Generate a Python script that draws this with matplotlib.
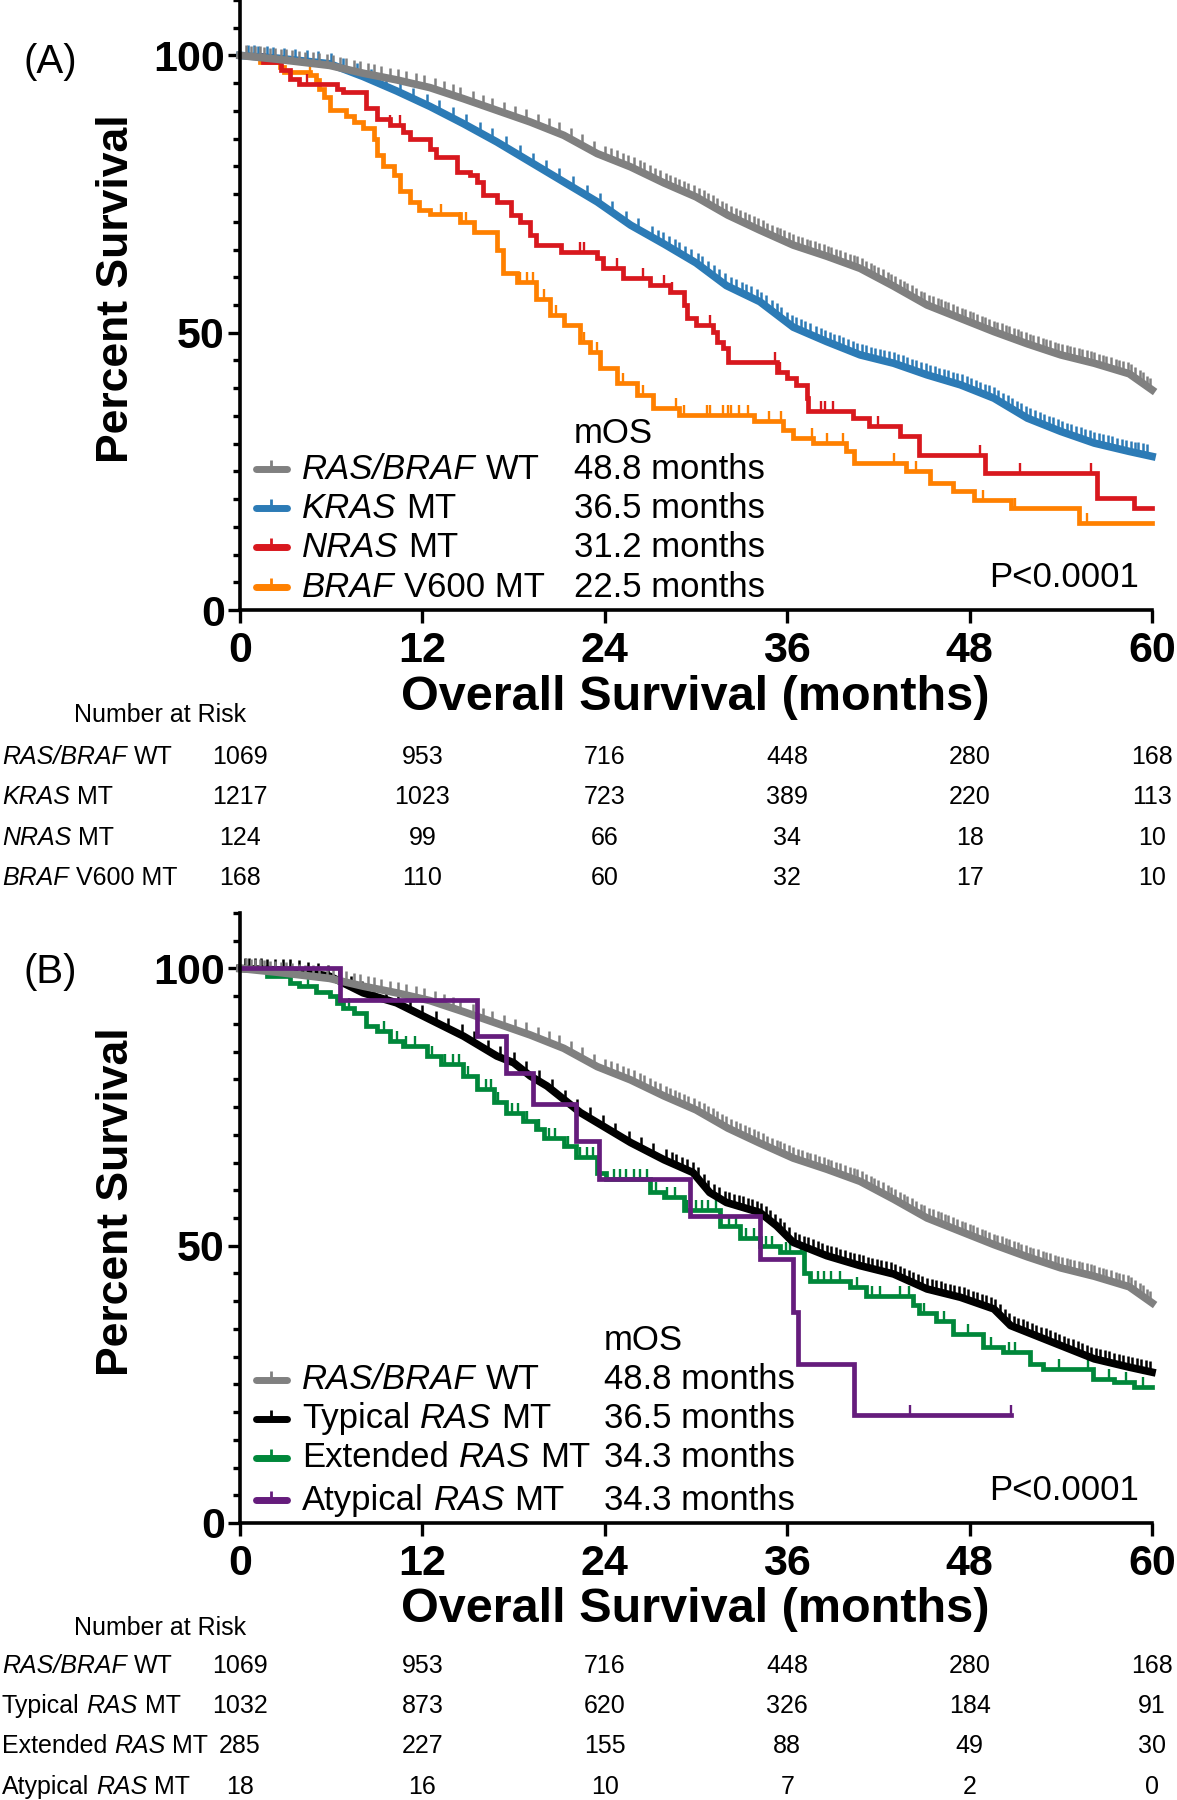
import numpy as np
import matplotlib
matplotlib.use("Agg")
import matplotlib.pyplot as plt
from matplotlib.path import Path
from matplotlib import transforms
from matplotlib.ticker import FixedLocator, MultipleLocator

plt.rcParams['font.family'] = ['Liberation Sans', 'DejaVu Sans']

# ---------------- data ----------------
xticks = [0, 12, 24, 36, 48, 60]

# RAS/BRAF WT (same curve in both panels)
wt_t = [0, 2.5, 5.9, 8.1, 10.3, 12.5, 14.7, 16.9, 19.1, 21.3, 23.5, 25.7, 27.9, 30.0,
        32.1, 34.2, 36.4, 38.6, 40.8, 43.0, 45.2, 47.4, 49.6, 51.8, 54.0, 56.2, 58.5, 60.0]
wt_s = [100, 99.3, 98.2, 96.8, 95.6, 94.2, 92.2, 90.1, 88.0, 85.6, 82.3, 79.9, 77.0, 74.5,
        71.2, 68.5, 65.8, 63.8, 61.6, 58.4, 55.0, 52.6, 50.2, 48.0, 46.0, 44.5, 42.6, 39.7]
wt_cens = [0.4, 0.7, 1.0, 1.3, 1.6, 2.0, 2.3, 2.7, 3.0, 3.4, 3.9, 4.3, 4.8, 5.2, 5.7, 6.1,
           6.6, 7.0, 7.5, 7.9, 8.4, 8.8, 9.3, 9.9, 10.4, 10.9, 11.6, 12.1, 12.8, 13.4, 14.0,
           14.5, 15.3, 16.0, 16.6, 17.4, 18.1, 18.8, 19.6, 20.3, 21.0, 21.8, 22.5, 23.3, 24.0,
           24.4, 24.8, 25.2, 25.5, 25.9, 26.3, 26.6, 27.0, 27.3, 27.6, 28.0, 28.3, 28.6, 28.9,
           29.2, 29.5, 29.9, 30.2, 30.5, 30.8, 31.1, 31.4, 31.7, 32.0, 32.3, 32.6, 32.9,
           33.2, 33.5, 33.8, 34.1, 34.4, 34.7, 35.0, 35.3, 35.5, 35.8, 36.1, 36.4, 36.7,
           37.0, 37.3, 37.5, 37.8, 38.1, 38.4, 38.7, 38.9, 39.2, 39.5, 39.8, 40.1, 40.4,
           40.6, 40.9, 41.2, 41.5, 41.7, 42.0, 42.3, 42.6, 42.8, 43.1, 43.4, 43.7, 43.9,
           44.2, 44.5, 44.8, 45.0, 45.3, 45.6, 45.9, 46.1, 46.4, 46.6, 46.9, 47.2, 47.5,
           47.7, 48.0, 48.2, 48.5, 48.8, 49.0, 49.3, 49.6, 49.8, 50.1, 50.4, 50.6, 50.9,
           51.2, 51.4, 51.7, 52.0, 52.2, 52.5, 52.8, 53.0, 53.3, 53.6, 53.8, 54.1, 54.4,
           54.6, 54.9, 55.2, 55.4, 55.7, 56.0, 56.2, 56.5, 56.8, 57.0, 57.3, 57.6, 57.8,
           58.1, 58.4, 58.6, 58.9, 59.2, 59.4, 59.7, 59.9]

# KRAS MT
kras_t = [0, 2.5, 5.9, 8.1, 10.3, 12.5, 14.7, 16.9, 19.1, 21.3, 23.5, 25.7, 27.9, 30.0,
          32.0, 34.2, 36.4, 38.6, 40.8, 43.0, 45.2, 47.4, 49.6, 51.8, 54.0, 56.2, 58.5, 60.0]
kras_s = [100, 99.5, 98.5, 96.2, 93.6, 90.8, 87.7, 84.4, 80.8, 77.2, 73.6, 69.4, 66.0, 62.6,
          58.5, 55.6, 51.0, 48.4, 46.0, 44.5, 42.4, 40.6, 38.2, 34.6, 32.2, 30.1, 28.6, 27.7]
kras_cens = [0.5, 0.9, 1.2, 1.8, 2.2, 2.9, 3.6, 4.4, 5.1, 6.0, 6.8, 7.7, 8.6, 9.6, 10.5,
             11.4, 12.3, 13.1, 14.0, 14.9, 15.8, 16.6, 17.5, 18.4, 19.3, 20.1, 21.0, 21.9,
             22.8, 23.7, 24.5, 25.4, 26.2, 27.1, 27.5, 27.8, 28.2, 28.6, 28.9, 29.3, 29.7,
             30.1, 30.4, 30.8, 31.2, 31.5, 31.9, 32.3, 32.6, 33.0, 33.3, 33.6, 34.0, 34.3,
             34.6, 35.0, 35.3, 35.6, 36.0, 36.3, 36.6, 36.9, 37.2, 37.5, 37.9, 38.2, 38.5,
             38.8, 39.1, 39.4, 39.7, 40.0, 40.3, 40.6, 40.9, 41.2, 41.5, 41.8, 42.1, 42.4,
             42.7, 43.0, 43.3, 43.6, 43.9, 44.2, 44.5, 44.8, 45.1, 45.4, 45.7, 46.0, 46.3,
             46.6, 46.9, 47.2, 47.5, 47.8, 48.1, 48.4, 48.7, 49.0, 49.3, 49.6, 49.9, 50.2,
             50.5, 50.8, 51.1, 51.4, 51.7, 52.0, 52.3, 52.6, 52.9, 53.2, 53.5, 53.8, 54.1,
             54.4, 54.7, 55.0, 55.3, 55.6, 55.9, 56.2, 56.5, 56.8, 57.1, 57.4, 57.7, 58.0,
             58.3, 58.6, 58.9, 59.1, 59.4, 59.7]

# NRAS MT
nras_t = [0, 1.5, 2.7, 3.3, 3.9, 6.4, 6.8, 8.3, 9.0, 9.9, 10.7, 11.2, 12.5, 12.9, 14.3, 15.1,
          15.6, 16.0, 16.9, 17.8, 18.4, 19.1, 19.5, 21.1, 23.5, 23.9, 25.2, 27.0, 28.3, 29.2,
          29.4, 30.0, 31.1, 31.4, 31.8, 32.1, 35.3, 36.0, 36.6, 37.3, 37.4, 40.3, 41.4, 43.4,
          44.7, 49.0, 56.4, 58.8]
nras_s = [100, 98.8, 97.3, 95.8, 94.9, 94.0, 93.4, 90.5, 88.6, 87.4, 86.2, 85.0, 83.2, 81.7,
          79.0, 78.4, 77.2, 74.8, 73.6, 71.2, 70.0, 67.6, 65.8, 64.6, 63.4, 61.6, 59.8, 58.6,
          57.4, 55.0, 52.6, 51.4, 50.2, 48.4, 47.2, 44.8, 43.0, 41.8, 40.6, 38.2, 35.8, 34.6,
          33.1, 31.3, 28.0, 24.7, 20.2, 18.4]
nras_cens = [4.4, 9.9, 10.5, 22.4, 22.6, 24.8, 26.5, 27.9, 28.4, 30.9, 35.2, 35.5, 38.2, 38.5,
             39.0, 42.0, 48.7, 51.3, 56.0]
nras_end = 60

# BRAF V600 MT
braf_t = [0, 1.3, 2.6, 2.9, 4.6, 5.0, 5.2, 5.5, 5.9, 7.0, 7.5, 8.1, 8.8, 9.0, 9.4, 10.1, 10.5,
          11.2, 11.8, 12.5, 14.5, 15.4, 16.9, 17.3, 18.2, 19.5, 20.4, 21.3, 22.4, 23.0, 23.7,
          24.8, 26.1, 27.2, 28.9, 33.8, 35.7, 36.4, 37.7, 39.9, 40.4, 43.8, 45.4, 46.9, 48.3,
          50.7, 55.2]
braf_s = [100, 98.8, 97.9, 97.0, 96.4, 95.5, 94.0, 92.5, 90.1, 89.0, 88.0, 87.0, 85.0, 82.0,
          80.0, 78.5, 75.5, 73.6, 72.1, 71.5, 70.0, 68.2, 65.0, 60.7, 59.2, 56.0, 53.2, 51.4,
          48.4, 46.6, 43.6, 41.0, 38.8, 36.5, 35.2, 34.0, 32.5, 31.0, 30.1, 28.6, 26.5, 25.0,
          22.9, 21.4, 19.9, 18.4, 15.7]
braf_cens = [4.6, 13.2, 14.5, 14.9, 15.4, 18.4, 18.9, 19.3, 20.0, 20.8, 22.6, 23.5, 25.2,
             26.5, 28.7, 29.2, 30.7, 30.9, 31.8, 32.1, 32.3, 32.8, 33.4, 34.8, 35.6, 37.6,
             38.6, 39.7, 43.0, 44.5, 48.9, 51.0, 55.7]
braf_end = 60

# Typical RAS MT
typ_t = [0, 3.7, 5.9, 8.1, 10.3, 12.5, 14.7, 16.9, 18.0, 19.1, 20.2, 21.3, 22.4, 23.5, 25.7,
         27.9, 29.8, 30.9, 32.0, 34.2, 35.3, 36.4, 38.6, 40.8, 43.0, 45.2, 47.4, 49.6, 50.7,
         51.8, 54.0, 56.2, 58.5, 60.0]
typ_s = [100, 99.6, 98.6, 95.6, 93.8, 90.8, 87.8, 84.2, 83.0, 80.6, 78.8, 76.4, 74.0, 72.2,
         68.6, 65.5, 63.2, 59.6, 57.8, 56.0, 53.6, 50.6, 48.2, 46.4, 44.9, 42.2, 40.7, 38.6,
         35.6, 34.4, 32.0, 29.6, 28.1, 27.2]
typ_cens = [0.3, 0.6, 1.0, 1.4, 1.8, 2.3, 2.8, 3.3, 3.9, 4.5, 5.1, 5.8, 6.5, 7.3, 8.0, 8.8,
            9.6, 10.4, 11.2, 12.0, 12.9, 13.7, 14.6, 15.4, 16.3, 17.1, 18.0, 18.8, 19.7,
            20.5, 21.4, 22.2, 23.0, 23.9, 24.7, 25.6, 26.4, 27.2, 28.0, 28.4, 28.7, 29.1,
            29.4, 29.8, 30.1, 30.5, 30.8, 31.2, 31.5, 31.9, 32.2, 32.5, 32.8, 33.1, 33.4,
            33.7, 34.0, 34.3, 34.6, 34.9, 35.2, 35.5, 35.8, 36.1, 36.5, 36.8, 37.1, 37.4,
            37.7, 38.0, 38.3, 38.6, 38.9, 39.2, 39.5, 39.8, 40.1, 40.4, 40.7, 41.0, 41.3,
            41.6, 41.9, 42.2, 42.5, 42.8, 43.1, 43.4, 43.7, 44.0, 44.3, 44.6, 44.9, 45.2,
            45.5, 45.8, 46.1, 46.4, 46.7, 47.0, 47.3, 47.6, 47.9, 48.2, 48.5, 48.8, 49.1,
            49.4, 49.7, 50.0, 50.3, 50.6, 50.9, 51.2, 51.5, 51.8, 52.1, 52.4, 52.7, 53.0,
            53.3, 53.6, 53.9, 54.2, 54.5, 54.8, 55.1, 55.4, 55.7, 56.0, 56.3, 56.6, 56.9,
            57.2, 57.5, 57.8, 58.1, 58.4, 58.7, 59.0, 59.3, 59.6, 59.9]

# Extended RAS MT
ext_t = [0, 1.8, 3.3, 3.9, 5.0, 5.9, 6.4, 6.8, 7.5, 8.3, 9.0, 9.9, 10.7, 12.3, 13.2, 14.7,
         15.6, 16.7, 17.5, 18.6, 19.5, 20.0, 21.3, 22.1, 23.5, 24.1, 27.0, 27.9, 29.2, 31.6,
         32.9, 34.2, 35.5, 37.1, 37.5, 40.1, 41.2, 44.3, 44.7, 45.8, 46.9, 48.9, 50.2, 52.0,
         52.8, 56.1, 57.5, 58.8]
ext_s = [100, 98.6, 97.4, 96.8, 95.8, 95.0, 93.8, 92.9, 92.0, 89.6, 88.7, 87.0, 86.0, 84.2,
         82.7, 80.6, 78.2, 76.0, 74.0, 72.5, 71.0, 69.5, 68.0, 66.0, 63.2, 62.0, 59.6, 58.8,
         56.4, 53.5, 51.4, 49.9, 48.8, 45.0, 43.7, 42.5, 41.0, 39.3, 37.9, 36.5, 34.0, 31.8,
         30.8, 28.7, 27.8, 26.0, 25.4, 24.5]
ext_cens = [2.0, 4.5, 7.2, 9.5, 10.3, 10.9, 11.5, 12.6, 13.5, 14.0, 14.4, 15.0, 16.2, 16.5,
            17.0, 17.9, 18.3, 18.9, 19.7, 20.3, 20.7, 21.6, 22.4, 22.8, 23.2, 24.6, 25.0,
            25.4, 25.9, 26.3, 26.8, 27.4, 28.1, 28.6, 29.4, 30.0, 30.4, 30.8, 31.3, 32.2,
            32.6, 33.3, 33.8, 34.6, 35.0, 35.9, 36.2, 36.9, 38.0, 38.4, 38.9, 39.5, 40.6,
            41.6, 42.1, 43.4, 44.0, 45.0, 46.3, 47.9, 49.4, 50.6, 51.0, 53.9, 55.8, 57.2,
            58.3, 59.4]
ext_end = 60

# Atypical RAS MT
aty_t = [0, 6.6, 15.6, 17.5, 19.3, 22.1, 23.6, 29.6, 34.2, 36.4, 36.7, 40.4]
aty_s = [100, 94.4, 87.8, 81.2, 75.5, 68.9, 62.0, 55.4, 47.6, 38.0, 28.7, 19.4]
aty_cens = [44.1, 50.7]
aty_end = 50.7

labelsA = [[("RAS/BRAF", True), ("WT", False)],
           [("KRAS", True), ("MT", False)],
           [("NRAS", True), ("MT", False)],
           [("BRAF", True), ("V600 MT", False)]]
labelsB = [[("RAS/BRAF", True), ("WT", False)],
           [("Typical", False), ("RAS", True), ("MT", False)],
           [("Extended", False), ("RAS", True), ("MT", False)],
           [("Atypical", False), ("RAS", True), ("MT", False)]]
mosA = ["48.8 months", "36.5 months", "31.2 months", "22.5 months"]
mosB = ["48.8 months", "36.5 months", "34.3 months", "34.3 months"]

riskA = [[1069, 953, 716, 448, 280, 168],
         [1217, 1023, 723, 389, 220, 113],
         [124, 99, 66, 34, 18, 10],
         [168, 110, 60, 32, 17, 10]]
riskB = [[1069, 953, 716, 448, 280, 168],
         [1032, 873, 620, 326, 184, 91],
         [285, 227, 155, 88, 49, 30],
         [18, 16, 10, 7, 2, 0]]

GRAY, BLUE, RED, ORANGE = '#808080', '#2c7bb6', '#d8181e', '#ff8000'
BLACK, GREEN, PURPLE = '#000000', '#00873a', '#651c7c'

# ---------------- figure ----------------
W, H = 1177, 1800
fig = plt.figure(figsize=(W / 100, H / 100), dpi=100)
axA = fig.add_axes([240 / W, 1 - 610 / H, 912 / W, 610 / H])
axB = fig.add_axes([240 / W, 1 - 1523 / H, 912 / W, 610 / H])

TICK = Path([(0, 0), (0, 1)], [Path.MOVETO, Path.LINETO])


def step_curve(ax, t, s, cens, end, color, lw=3.4):
    x = list(t) + [end]
    y = list(s) + [s[-1]]
    ax.plot(x, y, drawstyle='steps-post', color=color, lw=lw, clip_on=False,
            solid_joinstyle='miter')
    idx = np.searchsorted(t, cens, side='right') - 1
    ax.plot(cens, np.array(s)[idx], ls='none', marker=TICK, ms=15, mew=1.7,
            color=color, clip_on=False)


def smooth_curve(ax, t, s, cens, color, lw=5.5):
    ax.plot(t, s, color=color, lw=lw, clip_on=False)
    ax.plot(cens, np.interp(cens, t, s), ls='none', marker=TICK, ms=16, mew=1.8,
            color=color, clip_on=False)


def rich_text(ax, x, y, segments, size, transform, va='center'):
    prev = None
    for txt, ital in segments:
        style = 'italic' if ital else 'normal'
        if prev is None:
            prev = ax.text(x, y, txt, transform=transform, fontsize=size, style=style,
                           ha='left', va=va, clip_on=False)
        else:
            prev = ax.annotate(txt, xy=(1, 0), xycoords=prev,
                               xytext=(0.28 * size, 0), textcoords='offset points',
                               fontsize=size, style=style, ha='left', va='bottom',
                               annotation_clip=False)


def style_axes(ax):
    ax.set_xlim(0, 60)
    ax.set_ylim(0, 110)
    for side in ['top', 'right']:
        ax.spines[side].set_visible(False)
    for side in ['left', 'bottom']:
        ax.spines[side].set_linewidth(2.6)
    ax.xaxis.set_major_locator(FixedLocator(xticks))
    ax.yaxis.set_major_locator(FixedLocator([0, 50, 100]))
    ax.yaxis.set_minor_locator(MultipleLocator(5))
    ax.tick_params(axis='y', which='major', length=9, width=2.4, pad=2,
                   labelsize=31)
    ax.tick_params(axis='y', which='minor', length=5, width=2.4)
    ax.tick_params(axis='x', which='major', length=9, width=2.4, pad=6,
                   labelsize=31)
    for lab in ax.get_xticklabels() + ax.get_yticklabels():
        lab.set_fontweight('bold')
    ax.patch.set_alpha(0)


def legend_block(ax, labels, colors, mos, rows_y, mos_x, mos_title_y):
    for segs, c, m, y in zip(labels, colors, mos, rows_y):
        ax.plot([0.018, 0.051], [y, y], color=c, lw=5, transform=ax.transAxes,
                clip_on=False, solid_capstyle='round')
        ax.plot([0.0345], [y], marker=TICK, ms=13, mew=2, color=c,
                transform=ax.transAxes, clip_on=False)
        rich_text(ax, 0.068, y, segs, 25, ax.transAxes)
        ax.text(mos_x, y, m, transform=ax.transAxes, fontsize=25, ha='left',
                va='center')
    ax.text(mos_x, mos_title_y, "mOS", transform=ax.transAxes, fontsize=25,
            ha='left', va='center')
    ax.text(0.8213, 0.054, "P<0.0001", transform=ax.transAxes, fontsize=25,
            ha='left', va='center')


def risk_table(ax, labels, risk, title_y, rows_y):
    fig.text(160 / W, title_y, "Number at Risk", fontsize=18, ha='center', va='center')
    tr = transforms.blended_transform_factory(ax.transData, fig.transFigure)
    for segs, vals, y in zip(labels, risk, rows_y):
        rich_text(ax, 2 / W, y, segs, 18, fig.transFigure)
        for xv, v in zip(xticks, vals):
            ax.text(xv, y, str(v), transform=tr, fontsize=18, ha='center', va='center')


# ---- panel A ----
style_axes(axA)
step_curve(axA, braf_t, braf_s, braf_cens, braf_end, ORANGE)
step_curve(axA, nras_t, nras_s, nras_cens, nras_end, RED)
smooth_curve(axA, kras_t, kras_s, kras_cens, BLUE)
smooth_curve(axA, wt_t, wt_s, wt_cens, GRAY)
legend_block(axA, labelsA, [GRAY, BLUE, RED, ORANGE], mosA,
             [0.231, 0.167, 0.103, 0.037], 0.366, 0.290)
fig.text(117 / W, 1 - 289 / H, "Percent Survival", rotation=90, fontsize=32,
         fontweight='bold', ha='center', va='center')
fig.text(695 / W, 1 - 697 / H, "Overall Survival (months)", fontsize=35,
         fontweight='bold', ha='center', va='center')
fig.text(50 / W, 1 - 62 / H, "(A)", fontsize=29, ha='center', va='center')
risk_table(axA, labelsA, riskA, 1 - 715 / H,
           [1 - 757 / H, 1 - 797 / H, 1 - 838 / H, 1 - 878 / H])

# ---- panel B ----
style_axes(axB)
step_curve(axB, ext_t, ext_s, ext_cens, ext_end, GREEN)
smooth_curve(axB, typ_t, typ_s, typ_cens, BLACK)
smooth_curve(axB, wt_t, wt_s, wt_cens, GRAY)
step_curve(axB, aty_t, aty_s, aty_cens, aty_end, PURPLE)
legend_block(axB, labelsB, [GRAY, BLACK, GREEN, PURPLE], mosB,
             [0.235, 0.171, 0.107, 0.037], 0.399, 0.299)
fig.text(117 / W, 1 - 1202 / H, "Percent Survival", rotation=90, fontsize=32,
         fontweight='bold', ha='center', va='center')
fig.text(695 / W, 1 - 1610 / H, "Overall Survival (months)", fontsize=35,
         fontweight='bold', ha='center', va='center')
fig.text(50 / W, 1 - 972 / H, "(B)", fontsize=29, ha='center', va='center')
risk_table(axB, labelsB, riskB, 1 - 1628 / H,
           [1 - 1666 / H, 1 - 1706 / H, 1 - 1746 / H, 1 - 1787 / H])

fig.savefig("out.png", dpi=100)
